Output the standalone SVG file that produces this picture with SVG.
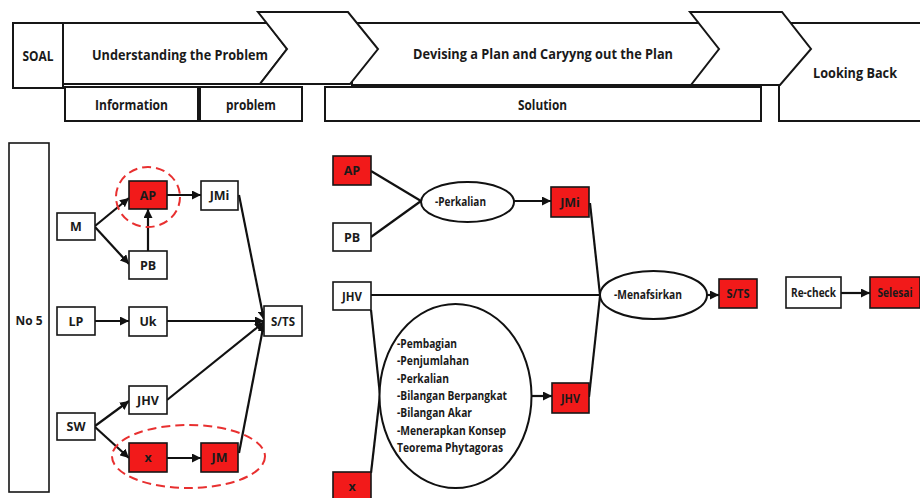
<svg xmlns="http://www.w3.org/2000/svg" width="920" height="498" viewBox="0 0 920 498">
  <style>
    .box { fill: #ffffff; stroke: #161616; stroke-width: 1.6; }
    .red { fill: #f21a1a; stroke: #161616; stroke-width: 1.6; }
    .hdr { fill: #ffffff; stroke: #161616; stroke-width: 2; stroke-linejoin: miter; }
    .oval { fill: #ffffff; stroke: #111111; stroke-width: 2; }
    .ring { fill: none; stroke: #e83030; stroke-width: 2; stroke-dasharray: 9 5; }
    .ln { fill: none; stroke: #111111; stroke-width: 2.2; }
    .arr { marker-end: url(#head); }
    text { font-family: "Open Sans", "Liberation Sans", sans-serif; font-weight: 700; fill: #1a1a1a; }
    .h { font-size: 15px; }
    .n { font-size: 12.5px; text-anchor: middle; }
    .t { font-size: 12px; }
  </style>
  <defs>
    <marker id="head" viewBox="0 0 10 10" refX="10" refY="5" markerUnits="userSpaceOnUse" markerWidth="9" markerHeight="9" orient="auto">
      <path d="M0,0 L10,5 L0,10 z" fill="#111111"/>
    </marker>
  </defs>

  <!-- phase header -->
  <g id="header">
    <g id="soal">
      <rect class="hdr" x="13" y="23" width="50" height="65"/>
      <text class="h" x="38" y="61" text-anchor="middle" textLength="31" lengthAdjust="spacingAndGlyphs">SOAL</text>
    </g>
    <g id="devising">
      <rect class="hdr" x="352" y="23" width="390" height="62"/>
      <text class="h" x="413" y="59" textLength="260" lengthAdjust="spacingAndGlyphs">Devising a Plan and Caryyng out the Plan</text>
    </g>
    <g id="looking-back">
      <rect class="hdr" x="779" y="23" width="150" height="98"/>
      <text class="h" x="813" y="78" textLength="84" lengthAdjust="spacingAndGlyphs">Looking Back</text>
    </g>
    <g id="understanding">
      <polygon class="hdr" points="63,23 267,23 287,49 260,84 63,84"/>
      <text class="h" x="92" y="60" textLength="176" lengthAdjust="spacingAndGlyphs">Understanding the Problem</text>
    </g>
    <polygon id="chevron-1" class="hdr" points="258,12 348,12 378,49 350,84 260,84 287,49"/>
    <polygon id="chevron-2" class="hdr" points="690,12 782,12 811,49 780,85 691,85 719,49"/>
    <g id="information">
      <rect class="hdr" x="65" y="87" width="133" height="34"/>
      <text class="h" x="95" y="110" textLength="73" lengthAdjust="spacingAndGlyphs">Information</text>
    </g>
    <g id="problem">
      <rect class="hdr" x="200" y="87" width="102" height="34"/>
      <text class="h" x="226" y="110" textLength="50" lengthAdjust="spacingAndGlyphs">problem</text>
    </g>
    <g id="solution">
      <rect class="hdr" x="325" y="87" width="436" height="34"/>
      <text class="h" x="518" y="110" textLength="49" lengthAdjust="spacingAndGlyphs">Solution</text>
    </g>
  </g>

  <!-- connectors -->
  <g id="connectors">
    <line class="ln arr" x1="95" y1="226" x2="129" y2="198"/>
    <line class="ln arr" x1="95" y1="227" x2="129" y2="264"/>
    <line class="ln arr" x1="148" y1="251" x2="148" y2="209"/>
    <line class="ln arr" x1="167" y1="195" x2="201" y2="195"/>
    <line class="ln arr" x1="95" y1="321" x2="129" y2="321"/>
    <line class="ln arr" x1="167" y1="321" x2="264" y2="321"/>
    <line class="ln arr" x1="239" y1="195" x2="264" y2="320"/>
    <line class="ln arr" x1="167" y1="400" x2="264" y2="322"/>
    <line class="ln arr" x1="239" y1="453" x2="264" y2="323"/>
    <line class="ln arr" x1="95" y1="426" x2="129" y2="401"/>
    <line class="ln arr" x1="95" y1="427" x2="129" y2="458"/>
    <line class="ln arr" x1="167" y1="458" x2="201" y2="458"/>

    <line class="ln" x1="371" y1="171" x2="421" y2="201"/>
    <line class="ln" x1="371" y1="237" x2="421" y2="201"/>
    <line class="ln arr" x1="514" y1="201" x2="551" y2="201"/>
    <line class="ln" x1="371" y1="295" x2="600" y2="295"/>
    <line class="ln" x1="590" y1="203" x2="600" y2="295"/>
    <line class="ln" x1="371" y1="310" x2="380" y2="395"/>
    <line class="ln" x1="371" y1="473" x2="380" y2="395"/>
    <line class="ln arr" x1="531" y1="396" x2="552" y2="396"/>
    <line class="ln" x1="589" y1="397" x2="600" y2="296"/>
    <line class="ln arr" x1="707" y1="295" x2="719" y2="295"/>
    <line class="ln arr" x1="841" y1="293" x2="870" y2="293"/>
  </g>

  <!-- left panel: problem No 5 -->
  <g id="no5"><rect class="box" x="9" y="143" width="40" height="349"/><text class="n" x="29" y="324.5" textLength="27" lengthAdjust="spacingAndGlyphs">No 5</text></g>
  <g id="m"><rect class="box" x="57" y="213" width="38" height="27"/><text class="n" x="76" y="231">M</text></g>
  <g id="ap-1"><rect class="red" x="129" y="181" width="38" height="28"/><text class="n" x="148" y="199.5">AP</text></g>
  <ellipse id="ap-ring" class="ring" cx="148" cy="197" rx="32" ry="30"/>
  <g id="jmi-1"><rect class="box" x="201" y="181" width="37" height="29"/><text class="n" x="219.5" y="200">JMi</text></g>
  <g id="pb-1"><rect class="box" x="129" y="251" width="38" height="28"/><text class="n" x="148" y="269.5">PB</text></g>
  <g id="lp"><rect class="box" x="57" y="307" width="38" height="28"/><text class="n" x="76" y="325.5">LP</text></g>
  <g id="uk"><rect class="box" x="129" y="307" width="38" height="29"/><text class="n" x="148" y="326">Uk</text></g>
  <g id="sts-1"><rect class="box" x="264" y="306" width="38" height="30"/><text class="n" x="283" y="325.5" textLength="24" lengthAdjust="spacingAndGlyphs">S/TS</text></g>
  <g id="jhv-1"><rect class="box" x="129" y="386" width="38" height="28"/><text class="n" x="148" y="404.5">JHV</text></g>
  <g id="sw"><rect class="box" x="57" y="413" width="38" height="27"/><text class="n" x="76" y="431">SW</text></g>
  <g id="x-1"><rect class="red" x="129" y="443" width="38" height="29"/><text class="n" x="148" y="461.5">x</text></g>
  <g id="jm"><rect class="red" x="201" y="443" width="37" height="29"/><text class="n" x="219.5" y="462">JM</text></g>
  <ellipse id="x-jm-ring" class="ring" cx="188.5" cy="456.5" rx="76.5" ry="31.5"/>

  <!-- right panel: solution -->
  <g id="ap-2"><rect class="red" x="333" y="156" width="38" height="29"/><text class="n" x="352" y="175">AP</text></g>
  <g id="pb-2"><rect class="box" x="333" y="223" width="38" height="28"/><text class="n" x="352" y="241.5">PB</text></g>
  <g id="perkalian"><ellipse class="oval" cx="467.5" cy="202" rx="46.5" ry="20"/><text class="t" x="435" y="206" textLength="51" lengthAdjust="spacingAndGlyphs">-Perkalian</text></g>
  <g id="jmi-2"><rect class="red" x="551" y="187" width="38" height="30"/><text class="n" x="570" y="206.5">JMi</text></g>
  <g id="jhv-2"><rect class="box" x="333" y="282" width="38" height="28"/><text class="n" x="352" y="300.5" textLength="20" lengthAdjust="spacingAndGlyphs">JHV</text></g>
  <g id="menafsirkan"><ellipse class="oval" cx="653.5" cy="295" rx="53.5" ry="24"/><text class="t" x="614" y="299" textLength="68" lengthAdjust="spacingAndGlyphs">-Menafsirkan</text></g>
  <g id="sts-2"><rect class="red" x="719" y="279" width="38" height="29"/><text class="n" x="738" y="298" textLength="23" lengthAdjust="spacingAndGlyphs">S/TS</text></g>
  <g id="recheck"><rect class="box" x="786" y="277" width="55" height="31"/><text class="n" x="813.5" y="297" textLength="45" lengthAdjust="spacingAndGlyphs">Re-check</text></g>
  <g id="selesai"><rect class="red" x="870" y="277" width="50" height="31"/><text class="n" x="895" y="297" textLength="35" lengthAdjust="spacingAndGlyphs">Selesai</text></g>
  <g id="operations">
    <ellipse class="oval" cx="455.5" cy="396" rx="76" ry="92"/>
    <text class="t" x="397" y="348" textLength="60" lengthAdjust="spacingAndGlyphs">-Pembagian</text>
    <text class="t" x="397" y="365.3" textLength="72" lengthAdjust="spacingAndGlyphs">-Penjumlahan</text>
    <text class="t" x="397" y="382.6" textLength="52" lengthAdjust="spacingAndGlyphs">-Perkalian</text>
    <text class="t" x="397" y="399.9" textLength="110" lengthAdjust="spacingAndGlyphs">-Bilangan Berpangkat</text>
    <text class="t" x="397" y="417.2" textLength="75" lengthAdjust="spacingAndGlyphs">-Bilangan Akar</text>
    <text class="t" x="397" y="434.5" textLength="109" lengthAdjust="spacingAndGlyphs">-Menerapkan Konsep</text>
    <text class="t" x="397" y="451.8" textLength="106" lengthAdjust="spacingAndGlyphs">Teorema Phytagoras</text>
  </g>
  <g id="jhv-3"><rect class="red" x="552" y="383" width="37" height="30"/><text class="n" x="570.5" y="402.5" textLength="19" lengthAdjust="spacingAndGlyphs">JHV</text></g>
  <g id="x-2"><rect class="red" x="333" y="472" width="38" height="32"/><text class="n" x="352" y="491">x</text></g>
</svg>
